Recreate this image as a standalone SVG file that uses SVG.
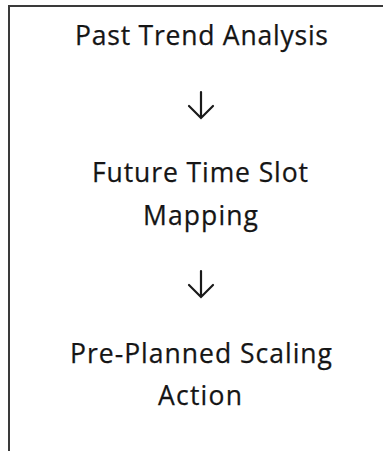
<svg xmlns="http://www.w3.org/2000/svg" width="383" height="451" viewBox="0 0 383 451">
  <style>
    .frame { fill: none; stroke: #3a3a3a; stroke-width: 2; }
    .label { font-family: "Open Sans", "Noto Sans", "Liberation Sans", sans-serif; font-size: 26.5px; fill: #151515; text-anchor: middle; stroke: #151515; stroke-width: 0.25; }
    .arrow { fill: none; stroke: #1a1a1a; stroke-width: 2.2; stroke-linecap: round; stroke-linejoin: miter; }
  </style>
  <rect width="383" height="451" fill="#ffffff"/>
  <!-- open frame: top edge and left edge only -->
  <path class="frame" d="M9 451 V6 H383"/>

  <g id="past-trend-analysis">
    <text class="label" x="201.5" y="45" textLength="253" lengthAdjust="spacing">Past Trend Analysis</text>
  </g>

  <g id="future-time-slot-mapping">
    <text class="label" x="200" y="182" textLength="216" lengthAdjust="spacing">Future Time Slot</text>
    <text class="label" x="200.5" y="225" textLength="115" lengthAdjust="spacing">Mapping</text>
  </g>

  <g id="pre-planned-scaling-action">
    <text class="label" x="201" y="363" textLength="262" lengthAdjust="spacing">Pre-Planned Scaling</text>
    <text class="label" x="200" y="405" textLength="84" lengthAdjust="spacing">Action</text>
  </g>

  <g id="connectors">
    <path class="arrow" d="M201 92 V117.5 M189 106 L201 118 L213 106"/>
    <path class="arrow" d="M201 271 V296.5 M189 285 L201 297 L213 285"/>
  </g>
</svg>
